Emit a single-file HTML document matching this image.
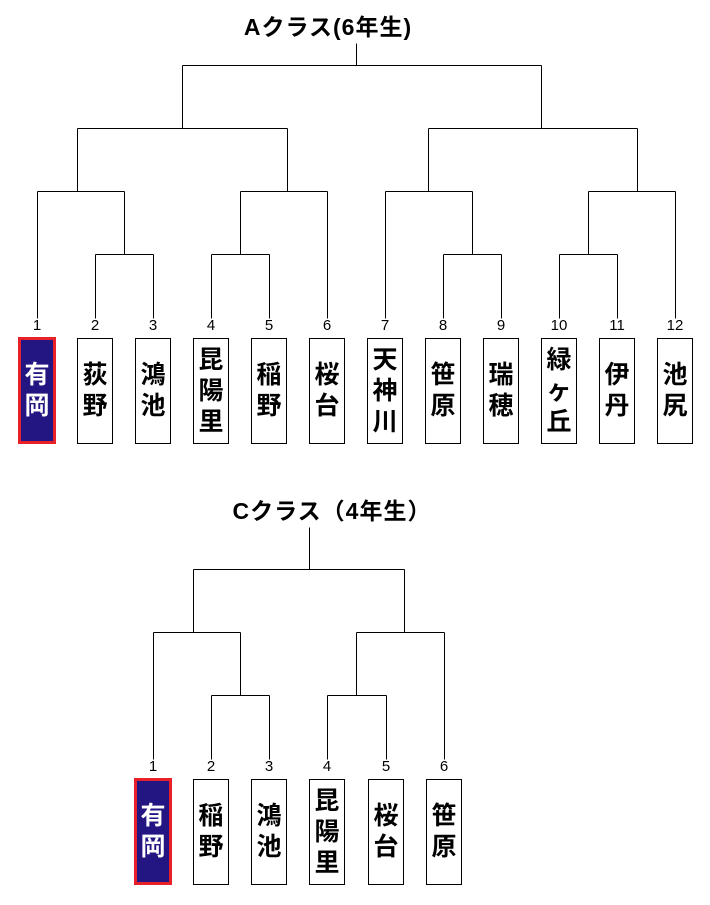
<!DOCTYPE html>
<html><head><meta charset="utf-8"><style>
body{margin:0;width:710px;height:905px;background:#fff;position:relative;font-family:"Liberation Sans","Noto Sans CJK JP",sans-serif;overflow:hidden}
.t{position:absolute;font-weight:bold;font-size:23px;letter-spacing:1px;color:#000;white-space:nowrap;transform:translateX(-50%)}
.n{position:absolute;font-size:15px;color:#000;transform:translateX(-50%);top:0}
.b{position:absolute;width:34px;height:104px;border:1px solid #000;background:#fff;display:flex;flex-direction:column;justify-content:center;align-items:center;font-weight:bold;font-size:25px;line-height:31px;box-sizing:content-box}
.r{background:#231682;color:#fff;border:3px solid #e8202a;width:32px;height:101px}
svg{position:absolute;left:0;top:0}
</style></head><body>
<svg width="710" height="905" fill="none" stroke="#000" stroke-width="1">
<g transform="translate(0.5,0.5)">
<path d="M356 43V65M182 65H541M182 65V128M541 65V128"/>
<path d="M77 128H287M77 128V191M287 128V191"/>
<path d="M37 191H124M37 191V318M124 191V254M95 254H153M95 254V318M153 254V318"/>
<path d="M240 191H327M327 191V318M240 191V254M211 254H269M211 254V318M269 254V318"/>
<path d="M428 128H637M428 128V191M637 128V191"/>
<path d="M385 191H472M385 191V318M472 191V254M443 254H501M443 254V318M501 254V318"/>
<path d="M588 191H675M675 191V318M588 191V254M559 254H617M559 254V318M617 254V318"/>
<path d="M309 527V569M193 569H404M193 569V632M404 569V632"/>
<path d="M153 632H240M153 632V759M240 632V695M211 695H269M211 695V759M269 695V759"/>
<path d="M356 632H444M444 632V759M356 632V695M327 695H386M327 695V759M386 695V759"/>
</g></svg>
<div class="t" style="left:328px;top:8px">Aクラス(6年生)</div>
<div class="t" style="left:332px;top:492px">Cクラス（4年生）</div>

<div class="n" style="left:37px;top:317px">1</div><div class="n" style="left:95px;top:317px">2</div><div class="n" style="left:153px;top:317px">3</div><div class="n" style="left:211px;top:317px">4</div><div class="n" style="left:269px;top:317px">5</div><div class="n" style="left:327px;top:317px">6</div><div class="n" style="left:385px;top:317px">7</div><div class="n" style="left:443px;top:317px">8</div><div class="n" style="left:501px;top:317px">9</div><div class="n" style="left:559px;top:317px">10</div><div class="n" style="left:617px;top:317px">11</div><div class="n" style="left:675px;top:317px">12</div>

<div class="b r" style="left:18px;top:337px"><span>有</span><span>岡</span></div>
<div class="b" style="left:77px;top:338px"><span>荻</span><span>野</span></div>
<div class="b" style="left:135px;top:338px"><span>鴻</span><span>池</span></div>
<div class="b" style="left:193px;top:338px"><span>昆</span><span>陽</span><span>里</span></div>
<div class="b" style="left:251px;top:338px"><span>稲</span><span>野</span></div>
<div class="b" style="left:309px;top:338px"><span>桜</span><span>台</span></div>
<div class="b" style="left:367px;top:338px"><span>天</span><span>神</span><span>川</span></div>
<div class="b" style="left:425px;top:338px"><span>笹</span><span>原</span></div>
<div class="b" style="left:483px;top:338px"><span>瑞</span><span>穂</span></div>
<div class="b" style="left:541px;top:338px"><span>緑</span><span>ヶ</span><span>丘</span></div>
<div class="b" style="left:599px;top:338px"><span>伊</span><span>丹</span></div>
<div class="b" style="left:657px;top:338px"><span>池</span><span>尻</span></div>

<div class="n" style="left:153px;top:758px">1</div><div class="n" style="left:211px;top:758px">2</div><div class="n" style="left:269px;top:758px">3</div><div class="n" style="left:327px;top:758px">4</div><div class="n" style="left:386px;top:758px">5</div><div class="n" style="left:444px;top:758px">6</div>

<div class="b r" style="left:134px;top:778px"><span>有</span><span>岡</span></div>
<div class="b" style="left:193px;top:779px"><span>稲</span><span>野</span></div>
<div class="b" style="left:251px;top:779px"><span>鴻</span><span>池</span></div>
<div class="b" style="left:309px;top:779px"><span>昆</span><span>陽</span><span>里</span></div>
<div class="b" style="left:368px;top:779px"><span>桜</span><span>台</span></div>
<div class="b" style="left:426px;top:779px"><span>笹</span><span>原</span></div>
</body></html>
